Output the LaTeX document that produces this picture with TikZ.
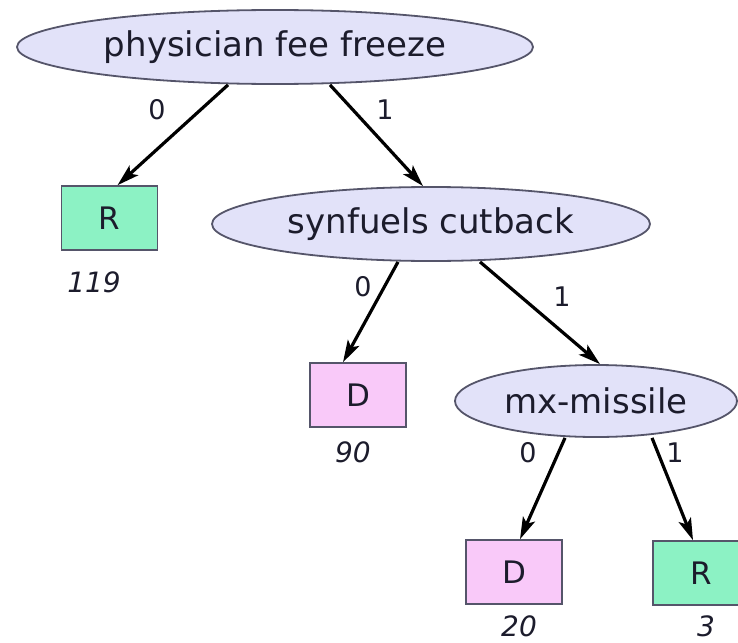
\documentclass[tikz,border=0pt]{standalone}
\usepackage{fontspec}
\setmainfont{DejaVu Sans}
\usetikzlibrary{shapes.geometric,arrows.meta}
\definecolor{testfill}{HTML}{E2E2F9}
\definecolor{repfill}{HTML}{8CF2C4}
\definecolor{demfill}{HTML}{F9C9F9}
\definecolor{rim}{HTML}{55556A}
\definecolor{ink}{HTML}{1C1C2C}
\tikzset{
  test/.style={ellipse, draw=rim, line width=1.8pt, fill=testfill, inner sep=0pt,
    text=ink, font=\fontsize{34}{37}\selectfont},
  leaf/.style={rectangle, draw=rim, line width=1.6pt, inner sep=0pt,
    minimum width=96pt, minimum height=64pt, text=ink,
    font=\fontsize{31}{34}\selectfont},
  rep/.style={leaf, fill=repfill},
  dem/.style={leaf, fill=demfill},
  branch/.style={line width=3.2pt, draw=black,
    -{Stealth[length=22pt,width=13pt,inset=5pt]}},
  edgelab/.style={text=ink, font=\fontsize{27}{30}\selectfont},
  count/.style={text=ink, font=\fontsize{28}{30}\selectfont\itshape},
}
\begin{document}
\begin{tikzpicture}[x=1pt,y=-1pt]
  \useasboundingbox (0,0) rectangle (738,642);
  \fill[white] (0,0) rectangle (738,642);

  % split tests
  \node[test, minimum width=516pt, minimum height=74pt] (pff) at (275,47) {physician fee freeze};
  \node[test, minimum width=438pt, minimum height=74pt] (syn) at (431,224) {synfuels cutback};
  \node[test, minimum width=282pt, minimum height=72pt] (mx) at (596,401) {mx-missile};

  % leaves
  \node[rep] (r1) at (109.5,218) {R};
  \node[dem] (d1) at (358,395) {D};
  \node[dem] (d2) at (514,572) {D};
  \node[rep] (r2) at (701,573) {R};

  % instance counts under the leaves
  \node[count] (c1) at (94,282) {119};
  \node[count] (c2) at (353,452) {90};
  \node[count] (c3) at (519,626) {20};
  \node[count] (c4) at (706,626) {3};

  % branches
  \draw[branch] ([xshift=-47pt]pff.south) -- ([xshift=8pt]r1.north);
  \draw[branch] ([xshift=55pt]pff.south) -- ([xshift=-8pt]syn.north);
  \draw[branch] ([xshift=-33pt]syn.south) -- ([xshift=-15pt]d1.north);
  \draw[branch] ([xshift=49pt]syn.south) -- ([xshift=4pt]mx.north);
  \draw[branch] ([xshift=-31pt]mx.south) -- ([xshift=6pt]d2.north);
  \draw[branch] ([xshift=56pt]mx.south) -- ([xshift=-8pt]r2.north);

  % branch values
  \node[edgelab] (l1) at (157,110) {0};
  \node[edgelab] (l2) at (385,110) {1};
  \node[edgelab] (l3) at (363,287) {0};
  \node[edgelab] (l4) at (562,297) {1};
  \node[edgelab] (l5) at (528,453) {0};
  \node[edgelab] (l6) at (675,453) {1};
\end{tikzpicture}
\end{document}
